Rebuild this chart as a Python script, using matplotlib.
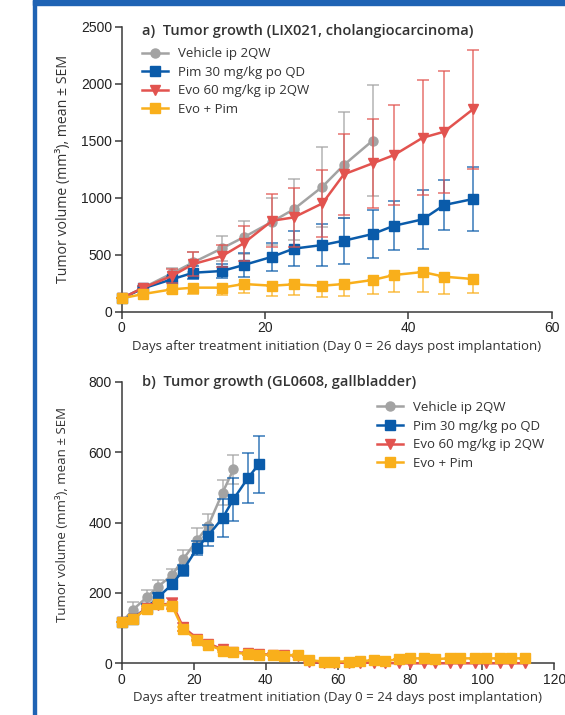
import matplotlib
matplotlib.use("Agg")
import matplotlib.pyplot as plt
import numpy as np
from matplotlib.lines import Line2D
from matplotlib.patches import Rectangle

# ---- panel a: LIX021 ----
days_a = [0, 3, 7, 10, 14, 17, 21, 24, 28, 31, 35, 38, 42, 45, 49]
veh_a = [117, 210, 336, 433, 556, 652, 790, 898, 1096, 1287, 1500]
veh_a_sem = [0, 15, 44, 87, 108, 143, 204, 269, 351, 467, 485]
pim_a = [117, 205, 284, 342, 357, 409, 482, 553, 585, 623, 681, 754, 810, 936, 988]
pim_a_sem = [0, 10, 20, 58, 61, 103, 123, 155, 181, 202, 211, 217, 257, 219, 284]
evo_a = [117, 210, 313, 418, 488, 600, 798, 827, 950, 1205, 1301, 1374, 1526, 1579, 1775]
evo_a_sem = [0, 15, 58, 102, 97, 152, 231, 261, 293, 353, 389, 439, 506, 535, 520]
combo_a = [117, 155, 196, 211, 211, 243, 228, 240, 228, 243, 278, 322, 348, 307, 287]
combo_a_sem = [0, 10, 35, 56, 65, 82, 88, 94, 96, 106, 123, 147, 178, 152, 126]

# ---- panel b: GL0608 ----
days_b = [0, 3, 7, 10, 14, 17, 21, 24, 28, 31, 35, 38, 42, 45, 49, 52, 56, 59,
          63, 66, 70, 73, 77, 80, 84, 87, 91, 94, 98, 101, 105, 108, 112]
veh_b = [116, 151, 188, 217, 251, 295, 351, 391, 485, 551]
veh_b_sem = [0, 24, 20, 21, 17, 28, 33, 33, 36, 41]
pim_b = [116, 127, 158, 187, 224, 264, 328, 363, 413, 466, 526, 565]
pim_b_sem = [0, 5, 10, 12, 14, 15, 20, 30, 54, 61, 72, 81]
evo_b = [116, 125, 158, 166, 170, 103, 70, 56, 40, 33, 28, 26, 25, 24, 22, 3, 2, 2,
         1, 1, 2, 1, 0, 0, 0, 0, 0, 0, 0, 0, 0, 0, 0]
evo_b_sem = [0, 3, 5, 6, 16, 12, 5, 4, 3, 3, 3, 3, 4, 4, 3, 1, 1, 1,
             1, 1, 1, 1, 0, 0, 0, 0, 0, 0, 0, 0, 0, 0, 0]
combo_b = [116, 125, 155, 168, 163, 97, 66, 53, 36, 31, 26, 24, 24, 22, 24, 9, 5, 5,
           5, 6, 9, 6, 12, 14, 14, 12, 14, 14, 14, 14, 14, 14, 14]
combo_b_sem = [0, 3, 5, 5, 6, 5, 4, 3, 3, 2, 2, 2, 2, 2, 2, 1, 1, 1,
               1, 1, 1, 1, 1, 1, 1, 1, 1, 1, 1, 1, 1, 1, 1]

labels = ["Vehicle ip 2QW", "Pim 30 mg/kg po QD", "Evo 60 mg/kg ip 2QW", "Evo + Pim"]
colors = ["#A3A3A3", "#0A5BAA", "#E2534F", "#F9AF1B"]
markers = ["o", "s", "v", "s"]
msizes = [6.5, 6.5, 6.5, 6.5]

TXT = "Open Sans"
plt.rcParams["font.family"] = [TXT, "DejaVu Sans"]
AX_COL = "#3a3a3a"


def draw_series(ax, x, y, sem, i, lower_only=False):
    x = x[:len(y)]
    if lower_only:
        yerr = [sem, np.zeros(len(sem))]
    else:
        yerr = sem
    eb = ax.errorbar(x, y, yerr=yerr, fmt="none", ecolor=colors[i], elinewidth=1.2,
                     capsize=4, capthick=1.2, alpha=0.75, zorder=2 + i)
    for c in eb.get_children():
        c.set_clip_on(False)
    ax.plot(x, y, color=colors[i], marker=markers[i], ms=msizes[i], lw=1.8,
            mec=colors[i], zorder=3 + i, clip_on=False)


def style_axes(ax, xmax, xstep, ymax, ystep):
    ax.set_xlim(0, xmax)
    ax.set_ylim(0, ymax)
    ax.set_xticks(np.arange(0, xmax + 1, xstep))
    ax.set_yticks(np.arange(0, ymax + 1, ystep))
    for s in ["top", "right"]:
        ax.spines[s].set_visible(False)
    for s in ["left", "bottom"]:
        ax.spines[s].set_color(AX_COL)
        ax.spines[s].set_linewidth(1.1)
    ax.tick_params(direction="out", length=5, width=1.1, color=AX_COL,
                   labelsize=10, labelcolor="#222222", pad=2)
    for t in ax.get_xticklabels() + ax.get_yticklabels():
        t.set_fontfamily("Liberation Sans")


fig = plt.figure(figsize=(5.65, 7.15), dpi=100)

# blue frame
fig.patches.append(Rectangle((33 / 565, 0), 3 / 565, 1, transform=fig.transFigure,
                             color="#1F63B4", zorder=0))
fig.patches.append(Rectangle((33 / 565, 1 - 5 / 715), 1, 5 / 715, transform=fig.transFigure,
                             color="#1F63B4", zorder=0))

ax_a = fig.add_axes([121.7 / 565, 1 - 311.7 / 715, 430 / 565, 285 / 715])
ax_b = fig.add_axes([121.7 / 565, 1 - 663.3 / 715, 432.5 / 565, 281.6 / 715])

draw_series(ax_a, days_a, veh_a, veh_a_sem, 0)
draw_series(ax_a, days_a, pim_a, pim_a_sem, 1)
draw_series(ax_a, days_a, evo_a, evo_a_sem, 2)
draw_series(ax_a, days_a, combo_a, combo_a_sem, 3, lower_only=True)
style_axes(ax_a, 60, 20, 2500, 500)

draw_series(ax_b, days_b, veh_b, veh_b_sem, 0)
draw_series(ax_b, days_b, pim_b, pim_b_sem, 1)
draw_series(ax_b, days_b, evo_b, evo_b_sem, 2)
draw_series(ax_b, days_b, combo_b, combo_b_sem, 3)
style_axes(ax_b, 120, 20, 800, 200)

handles = [Line2D([], [], color=colors[i], marker=markers[i], ms=msizes[i], lw=1.8)
           for i in range(4)]

ax_a.text(0.047, 0.985, "a)  Tumor growth (LIX021, cholangiocarcinoma)",
          transform=ax_a.transAxes, fontsize=10.5, fontweight="semibold",
          color="#333333", va="center", ha="left")
ax_a.legend(handles, labels, loc="upper left", bbox_to_anchor=(0.035, 0.946),
            frameon=False, fontsize=9.5, handlelength=2.0, handletextpad=0.7,
            labelspacing=0.42, borderaxespad=0, labelcolor="#333333")

ax_b.text(0.047, 1.0, "b)  Tumor growth (GL0608, gallbladder)",
          transform=ax_b.transAxes, fontsize=10.5, fontweight="semibold",
          color="#333333", va="center", ha="left")
ax_b.legend(handles, labels, loc="upper left", bbox_to_anchor=(0.578, 0.95),
            frameon=False, fontsize=9.5, handlelength=2.0, handletextpad=0.7,
            labelspacing=0.42, borderaxespad=0, labelcolor="#333333")

ax_a.set_xlabel("Days after treatment initiation (Day 0 = 26 days post implantation)",
                fontsize=9.5, color="#333333", labelpad=3)
ax_b.set_xlabel("Days after treatment initiation (Day 0 = 24 days post implantation)",
                fontsize=9.5, color="#333333", labelpad=3)

ylab = "Tumor volume (mm³), mean ± SEM"
yfam = ["Liberation Sans Narrow", "Open Sans", "DejaVu Sans"]
fig.text(63 / 565, 1 - 169 / 715, ylab, rotation=90, ha="center", va="center",
         fontsize=10.2, color="#333333", family=yfam)
fig.text(63 / 565, 1 - 514 / 715, ylab, rotation=90, ha="center", va="center",
         fontsize=9.5, color="#333333", family=yfam)

fig.savefig("out.png", dpi=100)
